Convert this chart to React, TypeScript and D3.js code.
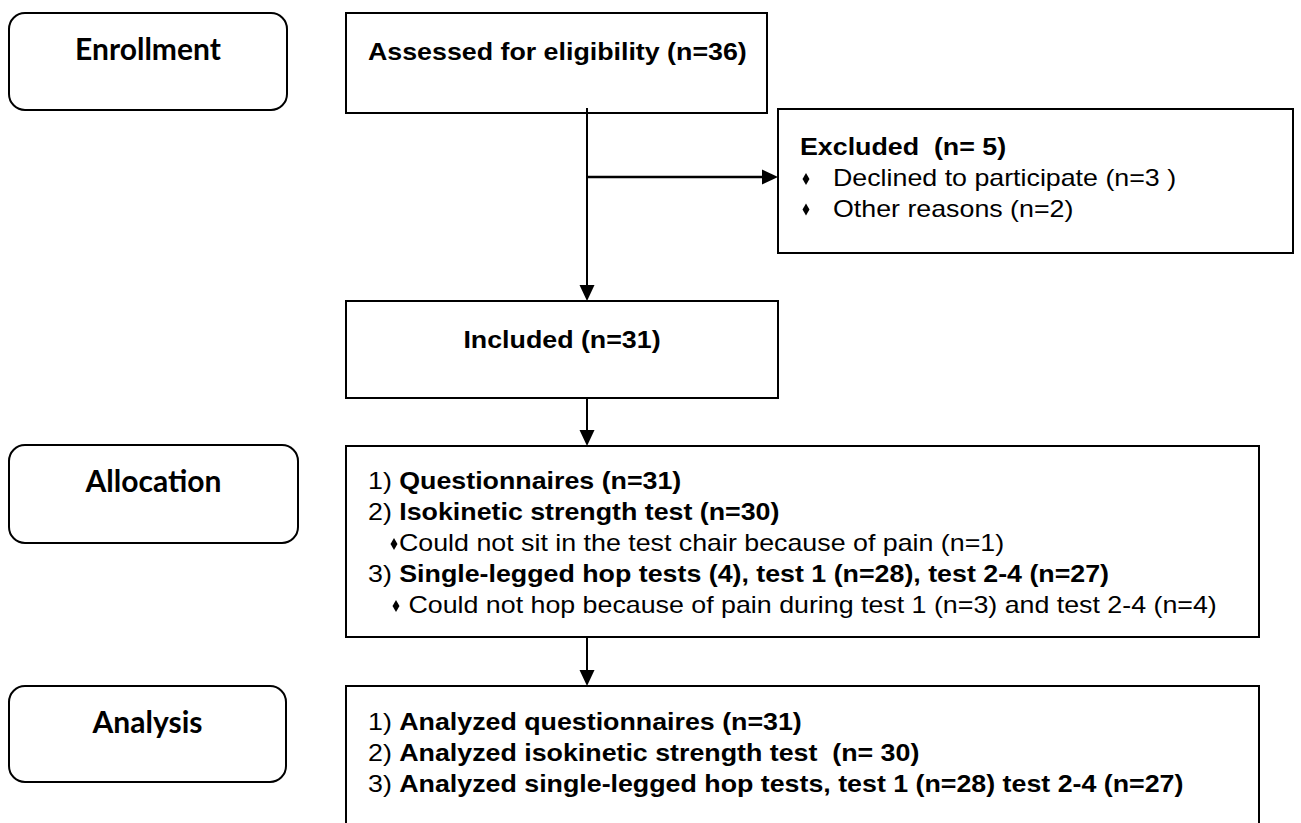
import * as d3 from 'd3';
import { useEffect, useRef } from 'react';

const WIDTH = 1301;
const HEIGHT = 823;

// stage labels on the left
const stageLabels = ['Enrollment', 'Allocation', 'Analysis'];

// flow texts
const assessedText = 'Assessed for eligibility (n=36)';
const excludedTitle = 'Excluded  (n= 5)';
const excludedReasons = ['Declined to participate (n=3 )', 'Other reasons (n=2)'];
const includedText = 'Included (n=31)';

const allocationPrefixes = ['1) ', '2) ', '', '3) ', ''];
const allocationBold = [
  'Questionnaires (n=31)',
  'Isokinetic strength test (n=30)',
  '',
  'Single-legged hop tests (4), test 1 (n=28), test 2-4 (n=27)',
  '',
];
const allocationNotes = [
  '',
  '',
  'Could not sit in the test chair because of pain (n=1)',
  '',
  ' Could not hop because of pain during test 1 (n=3) and test 2-4 (n=4)',
];

const analysisPrefixes = ['1) ', '2) ', '3) '];
const analysisBold = [
  'Analyzed questionnaires (n=31)',
  'Analyzed isokinetic strength test  (n= 30)',
  'Analyzed single-legged hop tests, test 1 (n=28) test 2-4 (n=27)',
];

const ARIAL = 'Arial, "Liberation Sans", sans-serif';
const STAGE_FONT = 'Lato, "Open Sans", sans-serif';
const TEXT_SIZE = 23;
const STRETCH = 1.165;
const LINE_STEP = 31;

// box geometry
const stageBoxes = [
  { x: 9, y: 13, w: 278, h: 97 },
  { x: 9, y: 445, w: 289, h: 98 },
  { x: 9, y: 686, w: 277, h: 96 },
];
const assessedBox = { x: 346, y: 13, w: 421, h: 100 };
const excludedBox = { x: 778, y: 109, w: 515, h: 144 };
const includedBox = { x: 346, y: 301, w: 432, h: 97 };
const allocationBox = { x: 346, y: 446, w: 913, h: 191 };
const analysisBox = { x: 346, y: 686, w: 913, h: 170 };
const SPINE_X = 587;

export default function App() {
  const ref = useRef<SVGSVGElement>(null);

  useEffect(() => {
    const svg = d3.select(ref.current);
    svg.selectAll('*').remove();
    svg.attr('width', WIDTH).attr('height', HEIGHT).attr('viewBox', `0 0 ${WIDTH} ${HEIGHT}`);

    svg.append('rect').attr('width', WIDTH).attr('height', HEIGHT).attr('fill', '#fff');

    const g = svg.append('g');

    // stage boxes (rounded)
    g.selectAll('rect.stage')
      .data(stageBoxes)
      .enter()
      .append('rect')
      .attr('class', 'stage')
      .attr('x', (b) => b.x)
      .attr('y', (b) => b.y)
      .attr('width', (b) => b.w)
      .attr('height', (b) => b.h)
      .attr('rx', 16)
      .attr('fill', 'none')
      .attr('stroke', '#000')
      .attr('stroke-width', 2);

    g.selectAll('text.stage-label')
      .data(stageLabels)
      .enter()
      .append('text')
      .attr('class', 'stage-label')
      .attr('x', (_, i) => stageBoxes[i].x + stageBoxes[i].w / 2)
      .attr('y', (_, i) => stageBoxes[i].y + 47)
      .attr('text-anchor', 'middle')
      .style('font-family', STAGE_FONT)
      .style('font-weight', 700)
      .style('font-size', '30px')
      .attr('fill', '#000')
      .text((d) => d);

    // square boxes
    const boxes = [assessedBox, excludedBox, includedBox, allocationBox, analysisBox];
    g.selectAll('rect.box')
      .data(boxes)
      .enter()
      .append('rect')
      .attr('class', 'box')
      .attr('x', (b) => b.x)
      .attr('y', (b) => b.y)
      .attr('width', (b) => b.w)
      .attr('height', (b) => b.h)
      .attr('fill', 'none')
      .attr('stroke', '#000')
      .attr('stroke-width', 2);

    // connectors
    const line = d3.line();
    const arrowHead = (tip: [number, number], dir: 'down' | 'right') => {
      const len = 16;
      const half = 7.5;
      const [tx, ty] = tip;
      const pts: [number, number][] =
        dir === 'down'
          ? [[tx, ty], [tx - half, ty - len], [tx + half, ty - len]]
          : [[tx, ty], [tx - len, ty - half], [tx - len, ty + half]];
      g.append('path').attr('d', line(pts) + 'Z').attr('fill', '#000');
    };

    const connectors: { pts: [number, number][]; w: number }[] = [
      { pts: [[SPINE_X, 108], [SPINE_X, includedBox.y - 10]], w: 2 },
      { pts: [[SPINE_X, 177], [excludedBox.x - 10, 177]], w: 2.5 },
      { pts: [[SPINE_X, includedBox.y + includedBox.h], [SPINE_X, allocationBox.y - 10]], w: 2 },
      { pts: [[SPINE_X, allocationBox.y + allocationBox.h], [SPINE_X, analysisBox.y - 10]], w: 2 },
    ];
    connectors.forEach((c) => {
      g.append('path')
        .attr('d', line(c.pts))
        .attr('fill', 'none')
        .attr('stroke', '#000')
        .attr('stroke-width', c.w);
    });
    arrowHead([SPINE_X, includedBox.y], 'down');
    arrowHead([excludedBox.x, 177], 'right');
    arrowHead([SPINE_X, allocationBox.y], 'down');
    arrowHead([SPINE_X, analysisBox.y], 'down');

    // stretched Arial-like text helper
    const addText = (x: number, y: number, anchor = 'start') =>
      g
        .append('g')
        .attr('transform', `translate(${x},${y}) scale(${STRETCH},1)`)
        .append('text')
        .attr('text-anchor', anchor)
        .style('font-family', ARIAL)
        .style('font-size', `${TEXT_SIZE}px`)
        .style('white-space', 'pre')
        .attr('fill', '#000');

    const diamond = d3.symbol().type(d3.symbolDiamond).size(42);
    const addBullet = (x: number, y: number) => {
      g.append('path')
        .attr('transform', `translate(${x},${y - 7})`)
        .attr('d', diamond())
        .attr('fill', '#000');
    };

    addText(368, 60).style('font-weight', 700).text(assessedText);
    addText(includedBox.x + includedBox.w / 2, 348, 'middle').style('font-weight', 700).text(includedText);

    addText(800, 155).style('font-weight', 700).text(excludedTitle);
    excludedReasons.forEach((r, i) => {
      const y = 186 + i * 30.5;
      addBullet(806, y);
      addText(833, y).text(r);
    });

    allocationPrefixes.forEach((p, i) => {
      const y = 489 + i * LINE_STEP;
      if (allocationNotes[i]) {
        const bx = allocationNotes[i].startsWith(' ') ? 396 : 394;
        addBullet(bx, y);
        addText(bx + 5, y).text(allocationNotes[i]);
        return;
      }
      const t = addText(368, y);
      t.append('tspan').text(p);
      t.append('tspan').style('font-weight', 700).text(allocationBold[i]);
    });

    analysisPrefixes.forEach((p, i) => {
      const y = 730 + i * LINE_STEP;
      const t = addText(368, y);
      t.append('tspan').text(p);
      t.append('tspan').style('font-weight', 700).text(analysisBold[i]);
    });

    return () => {
      svg.selectAll('*').remove();
    };
  }, []);

  return (
    <div style={{ position: 'absolute', left: 0, top: 0 }}>
      <svg ref={ref} style={{ display: 'block' }} role="img" aria-label="Participant flow diagram" />
    </div>
  );
}
